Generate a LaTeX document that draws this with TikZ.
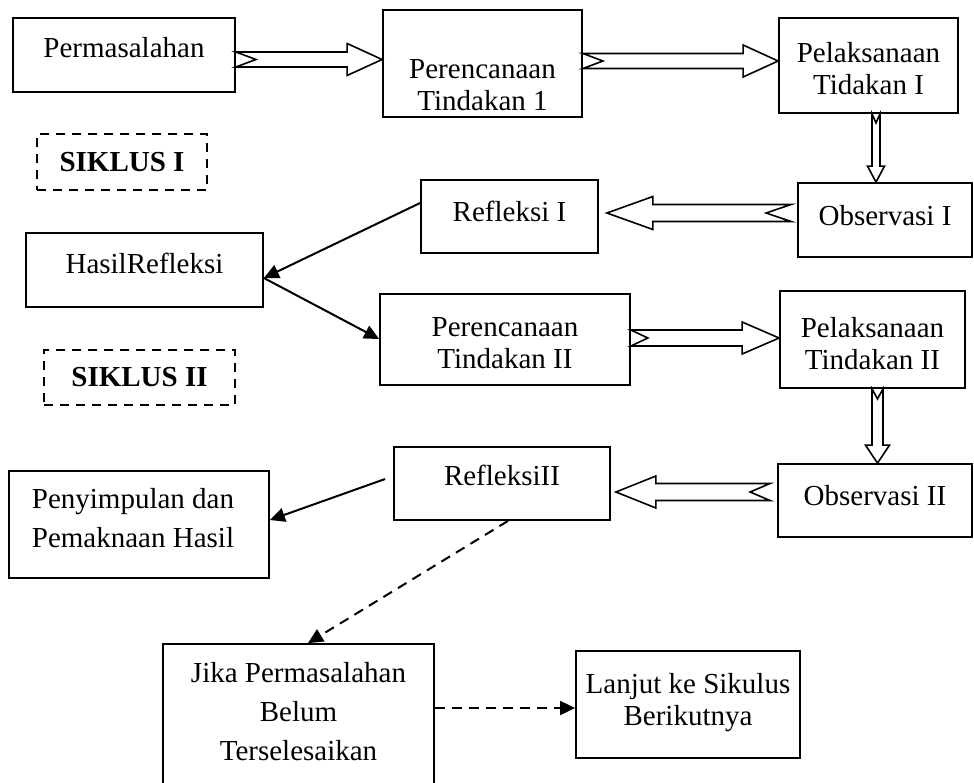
\documentclass[tikz,border=0pt]{standalone}
\usepackage{fontspec}
\setmainfont{Liberation Serif}
\usetikzlibrary{calc,arrows.meta}
\tikzset{
  box/.style={draw, line width=1.8pt, inner sep=0pt},
  dbox/.style={draw, line width=1.8pt, dash pattern=on 9pt off 7pt, inner sep=0pt, font=\fontsize{29}{34}\selectfont\bfseries},
  txt/.style={inner sep=0pt, anchor=base, font=\fontsize{29}{39}\selectfont},
  tight/.style={font=\fontsize{29}{32.5}\selectfont},
  blk/.style={draw, fill=white, line width=1.6pt, line join=miter},
  conn/.style={line width=2pt, -{Triangle[length=15pt,width=14pt]}},
  dconn/.style={conn, dash pattern=on 10pt off 7pt},
}
\newcommand\rbox[5]{\node[box, minimum width={(#4)-(#2)}, minimum height={(#5)-(#3)}] (#1) at ({((#2)+(#4))/2},{((#3)+(#5))/2}) {};}
\newcommand\mlines[1]{\begin{tabular}[t]{@{}c@{}}#1\end{tabular}}
\newcommand\rarrow[6]{\draw[blk] ($(#1)+(0,-#3)$) -- ($(#2)+(-#5,-#3)$) -- ($(#2)+(-#5,-#4)$) -- (#2) -- ($(#2)+(-#5,#4)$) -- ($(#2)+(-#5,#3)$) -- ($(#1)+(0,#3)$) -- ($(#1)+(#6,0)$) -- cycle;}
\newcommand\larrow[6]{\draw[blk] ($(#1)+(0,-#3)$) -- ($(#2)+(#5,-#3)$) -- ($(#2)+(#5,-#4)$) -- (#2) -- ($(#2)+(#5,#4)$) -- ($(#2)+(#5,#3)$) -- ($(#1)+(0,#3)$) -- ($(#1)+(-#6,0)$) -- cycle;}
\newcommand\darrow[6]{\draw[blk] ($(#1)+(-#3,0)$) -- ($(#2)+(-#3,-#5)$) -- ($(#2)+(-#4,-#5)$) -- (#2) -- ($(#2)+(#4,-#5)$) -- ($(#2)+(#3,-#5)$) -- ($(#1)+(#3,0)$) -- ($(#1)+(0,#6)$) -- cycle;}
\begin{document}
\begin{tikzpicture}[x=1pt,y=-1pt]
\useasboundingbox (0,0) rectangle (974,782);
\clip (0,0) rectangle (974,782);
% boxes
\rbox{perm}{13}{18}{235}{92}
\rbox{perc1}{383}{10}{582}{117}
\rbox{pel1}{779}{18}{958}{113}
\rbox{refl1}{421}{180}{598}{253}
\rbox{obs1}{798}{183}{972}{257}
\rbox{hasil}{26}{233}{263}{307}
\rbox{perc2}{380}{294}{630}{385}
\rbox{pel2}{780}{291}{965}{388}
\rbox{refl2}{394}{447}{610}{520}
\rbox{obs2}{778}{464}{972}{537}
\rbox{peny}{9}{471}{269}{578}
\rbox{jika}{163}{644}{434}{800}
\rbox{lanjut}{576}{651}{800}{758}
\node[dbox, minimum width=170, minimum height=56] (sik1) at (122,162) {SIKLUS I};
\node[dbox, minimum width=191, minimum height=55] (sik2) at (139.5,377.5) {SIKLUS II};
% texts
\node[txt] (perm-t) at (perm.center |- 0,57) {Permasalahan};
\node[txt, tight] (perc1-t) at (perc1.center |- 0,78) {\mlines{Perencanaan\\Tindakan 1}};
\node[txt, tight] (pel1-t) at (pel1.center |- 0,62) {\mlines{Pelaksanaan\\Tidakan I}};
\node[txt] (refl1-t) at (refl1.center |- 0,221) {Refleksi I};
\node[txt] (obs1-t) at (obs1.center |- 0,225) {Observasi I};
\node[txt] (hasil-t) at (hasil.center |- 0,273) {HasilRefleksi};
\node[txt, tight] (perc2-t) at (perc2.center |- 0,336) {\mlines{Perencanaan\\Tindakan II}};
\node[txt, tight] (pel2-t) at (pel2.center |- 0,337) {\mlines{Pelaksanaan\\Tindakan II}};
\node[txt] (refl2-t) at (refl2.center |- 0,485) {RefleksiII};
\node[txt] (obs2-t) at (obs2.center |- 0,505) {Observasi II};
\node[txt] (peny-t) at (133,508) {\mlines{Penyimpulan dan\\Pemaknaan Hasil}};
\node[txt] (jika-t) at (jika.center |- 0,682) {\mlines{Jika Permasalahan\\Belum\\Terselesaikan}};
\node[txt, tight] (lanjut-t) at (lanjut.center |- 0,693) {\mlines{Lanjut ke Sikulus\\Berikutnya}};
% block arrows
\coordinate (a1s) at (perm.east |- 0,59.5);
\coordinate (a1e) at (perc1.west |- 0,59.5);
\rarrow{a1s}{a1e}{7.5}{16}{35}{20}
\coordinate (a2s) at (perc1.east |- 0,61);
\coordinate (a2e) at (pel1.west |- 0,61);
\rarrow{a2s}{a2e}{7.5}{16}{35}{20}
\coordinate (a3s) at (876,0 |- pel1.south);
\coordinate (a3e) at (876,0 |- obs1.north);
\darrow{a3s}{a3e}{4}{8.5}{16}{9}
\coordinate (a4s) at ($(obs1.west |- 0,213)+(-6,0)$);
\coordinate (a4e) at ($(refl1.east |- 0,213)+(8,0)$);
\larrow{a4s}{a4e}{8.5}{16.5}{46}{25}
\coordinate (a5s) at (perc2.east |- 0,338);
\coordinate (a5e) at (pel2.west |- 0,338);
\rarrow{a5s}{a5e}{8}{16}{37}{17}
\coordinate (a6s) at (877.5,0 |- pel2.south);
\coordinate (a6e) at (877.5,0 |- obs2.north);
\darrow{a6s}{a6e}{5.5}{12}{18}{10}
\coordinate (a7s) at ($(obs2.west |- 0,492)+(-7,0)$);
\coordinate (a7e) at ($(refl2.east |- 0,492)+(5,0)$);
\larrow{a7s}{a7e}{8.5}{16}{40}{20}
% line connectors
\draw[conn] (refl1.west |- 0,203) -- (hasil.east |- 0,278);
\draw[conn] (hasil.east |- 0,278) -- (perc2.west |- 0,339);
\draw[conn] ($(refl2.west |- 0,479)+(-8,0)$) -- (peny.east |- 0,520);
\draw[dconn] (508,0 |- refl2.south) -- (308,0 |- jika.north);
\draw[dconn] (jika.east |- 0,708) -- (lanjut.west |- 0,708);
\end{tikzpicture}
\end{document}
